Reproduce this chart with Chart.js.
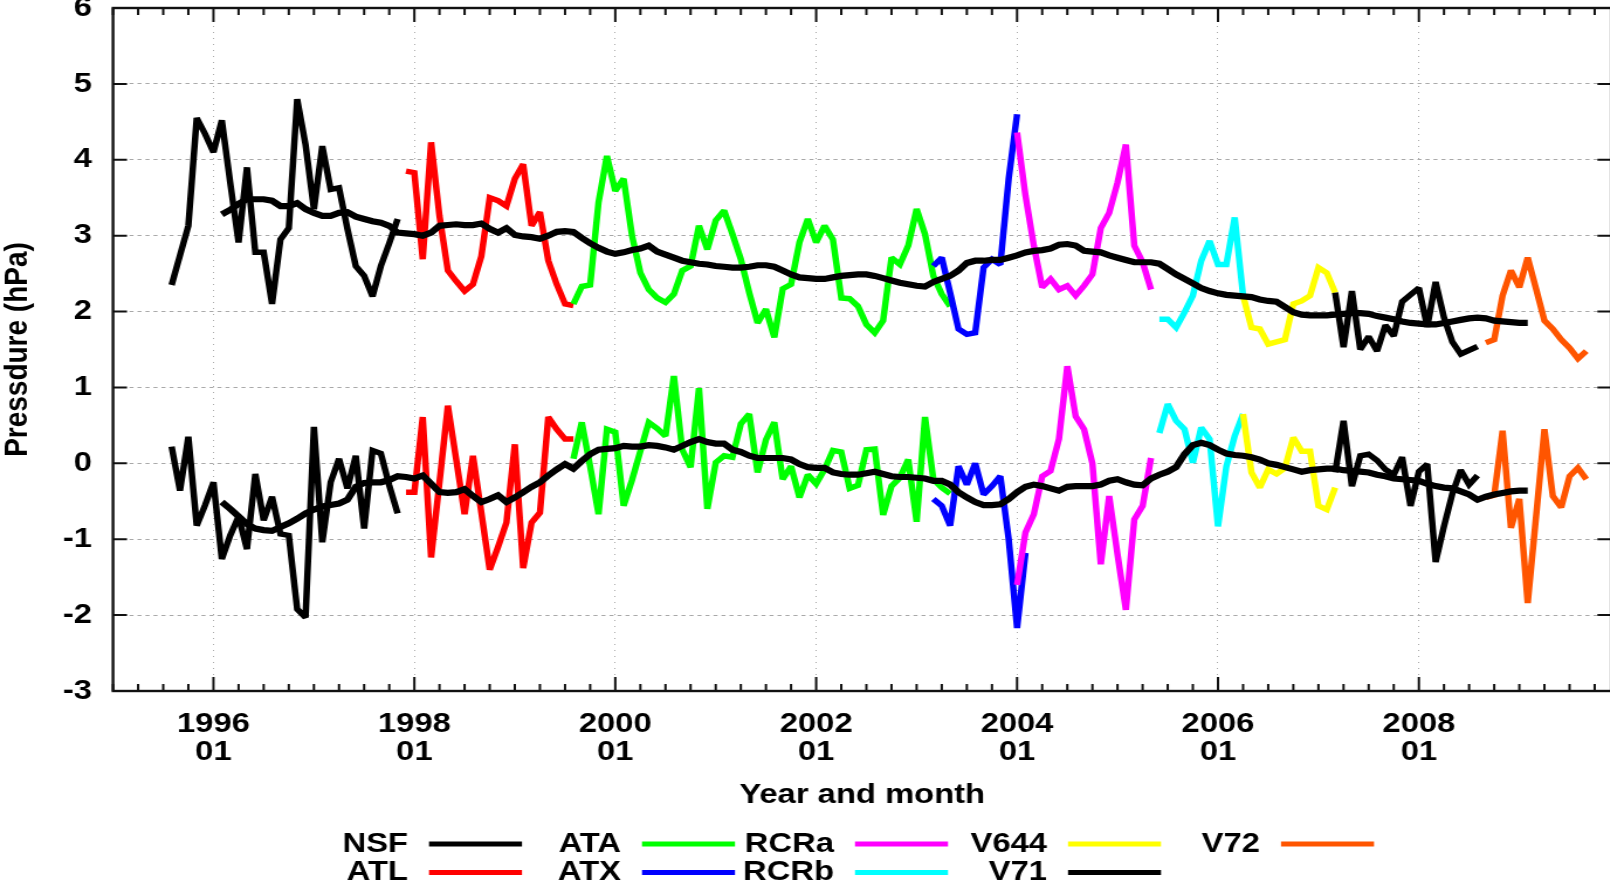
<!DOCTYPE html>
<html>
<head>
<meta charset="utf-8">
<script src="https://cdn.jsdelivr.net/npm/chart.js@4.4.1/dist/chart.umd.min.js"></script>
<style>
html,body{margin:0;padding:0;background:#ffffff;overflow:hidden;}
#wrap{position:absolute;left:0;top:0;width:1610px;height:883px;overflow:hidden;background:#fff;}
#stretch{position:absolute;left:0;top:0;transform-origin:0 0;}
canvas{display:block;}
</style>
</head>
<body>
<div id="wrap"><div id="stretch"><canvas id="c"></canvas></div></div>
<script>
// ---------------- data ----------------
const instruments = ['NSF','ATL','ATA','ATX','RCRa','RCRb','V644','V71','V72'];
const colors      = ['#000000','#ff0000','#00ff00','#0000ff','#ff00ff','#00ffff','#ffff00','#000000','#ff5500'];
const startMonths = ['1995-08','1997-12','1999-08','2003-03','2004-01','2005-06','2006-04','2007-03','2008-09'];

const nsfUpper  = [2.35,2.74,3.13,4.55,4.34,4.10,4.52,3.70,2.91,3.90,2.78,2.78,2.10,2.95,3.10,4.80,4.20,3.35,4.18,3.61,3.63,3.09,2.60,2.47,2.20,2.60,2.90,3.22];
const nsfLower  = [0.22,-0.36,0.35,-0.82,-0.55,-0.25,-1.26,-0.95,-0.70,-1.13,-0.14,-0.75,-0.44,-0.93,-0.95,-1.92,-2.03,0.48,-1.04,-0.25,0.06,-0.33,0.10,-0.86,0.17,0.13,-0.29,-0.66];
const atlUpper  = [3.85,3.83,2.69,4.23,3.26,2.54,2.40,2.27,2.36,2.73,3.50,3.46,3.39,3.75,3.94,3.13,3.31,2.67,2.36,2.10,2.08];
const atlLower  = [-0.38,-0.38,0.61,-1.24,-0.25,0.76,0.05,-0.67,0.10,-0.65,-1.40,-1.10,-0.78,0.25,-1.38,-0.78,-0.65,0.61,0.45,0.32,0.32];
const ataUpper  = [2.10,2.33,2.35,3.44,4.05,3.59,3.75,3.00,2.51,2.29,2.18,2.12,2.23,2.54,2.60,3.13,2.82,3.20,3.33,3.02,2.69,2.25,1.85,2.03,1.66,2.30,2.36,2.91,3.22,2.91,3.13,2.95,2.18,2.17,2.07,1.83,1.72,1.88,2.71,2.62,2.87,3.35,3.02,2.47,2.23,2.07];
const ataLower  = [0.06,0.54,-0.04,-0.67,0.45,0.41,-0.56,-0.22,0.16,0.54,0.46,0.36,1.15,0.18,-0.05,0.99,-0.60,0.01,0.10,0.08,0.52,0.65,-0.12,0.31,0.54,-0.21,-0.04,-0.45,-0.15,-0.27,-0.08,0.17,0.15,-0.33,-0.29,0.18,0.19,-0.68,-0.30,-0.19,0.05,-0.77,0.61,-0.21,-0.32,-0.40];
const atxUpper  = [2.60,2.71,2.25,1.77,1.70,1.72,2.58,2.69,2.62,3.75,4.60];
const atxLower  = [-0.47,-0.56,-0.82,-0.04,-0.28,0.00,-0.41,-0.30,-0.17,-1.00,-2.17,-1.18];
const rcraUpper = [4.36,3.53,2.87,2.32,2.43,2.29,2.34,2.21,2.34,2.49,3.10,3.30,3.70,4.20,2.87,2.65,2.29];
const rcraLower = [-1.60,-0.91,-0.67,-0.17,-0.10,0.32,1.28,0.62,0.45,0.00,-1.33,-0.43,-1.20,-1.93,-0.74,-0.56,0.07];
const rcrbUpper = [1.90,1.90,1.79,1.99,2.21,2.67,2.93,2.62,2.62,3.24,2.21];
const rcrbLower = [0.40,0.78,0.56,0.45,0.01,0.47,0.32,-0.83,-0.04,0.36,0.65];
const v644Upper = [2.21,1.79,1.77,1.57,1.60,1.63,2.10,2.14,2.21,2.58,2.51,2.25];
const v644Lower = [0.65,-0.12,-0.32,-0.08,-0.14,-0.06,0.34,0.16,0.16,-0.56,-0.61,-0.32];
const v71Upper  = [2.25,1.53,2.27,1.50,1.67,1.48,1.82,1.68,2.13,2.22,2.31,1.80,2.39,1.92,1.60,1.44,1.49,1.54];
const v71Lower  = [-0.12,0.56,-0.30,0.10,0.12,0.04,-0.08,-0.15,0.08,-0.56,-0.11,-0.01,-1.30,-0.83,-0.40,-0.09,-0.28,-0.16];
const v72Upper  = [1.59,1.63,2.21,2.54,2.32,2.71,2.30,1.88,1.77,1.63,1.52,1.38,1.48];
const v72Lower  = [-0.45,-0.42,0.43,-0.85,-0.47,-1.84,-0.70,0.45,-0.43,-0.58,-0.17,-0.06,-0.21];

const smoothStart = '1996-02';
const smoothUpper = [
 3.28,3.34,3.42,3.48,3.48,3.48,3.46,3.39,3.39,3.43,3.35,3.30,
 3.26,3.26,3.30,3.31,3.25,3.22,3.19,3.17,3.13,3.04,3.03,3.02,
 3.00,3.04,3.13,3.14,3.15,3.14,3.14,3.16,3.09,3.04,3.10,3.01,
 2.99,2.98,2.96,3.00,3.05,3.06,3.05,2.97,2.90,2.84,2.79,2.76,
 2.78,2.81,2.83,2.87,2.79,2.75,2.71,2.67,2.65,2.63,2.62,2.60,
 2.59,2.58,2.58,2.59,2.61,2.61,2.59,2.54,2.49,2.45,2.44,2.43,
 2.43,2.45,2.47,2.48,2.49,2.49,2.47,2.44,2.41,2.38,2.36,2.34,
 2.33,2.39,2.43,2.47,2.54,2.64,2.67,2.67,2.68,2.68,2.71,2.74,
 2.78,2.80,2.81,2.83,2.88,2.89,2.87,2.80,2.79,2.78,2.74,2.71,
 2.68,2.65,2.65,2.65,2.63,2.56,2.49,2.43,2.37,2.31,2.27,2.24,
 2.22,2.21,2.20,2.19,2.16,2.14,2.13,2.06,1.99,1.96,1.95,1.95,
 1.95,1.96,1.97,1.98,1.98,1.97,1.94,1.92,1.90,1.87,1.85,1.84,
 1.83,1.83,1.85,1.87,1.89,1.91,1.92,1.91,1.88,1.87,1.86,1.85,
 1.85];
const smoothLower = [
 -0.51,-0.60,-0.70,-0.80,-0.86,-0.88,-0.89,-0.84,-0.79,-0.73,-0.66,-0.61,
 -0.57,-0.55,-0.53,-0.48,-0.31,-0.26,-0.25,-0.25,-0.22,-0.17,-0.18,-0.20,
 -0.16,-0.27,-0.38,-0.39,-0.38,-0.34,-0.43,-0.51,-0.47,-0.42,-0.51,-0.45,
 -0.38,-0.31,-0.25,-0.16,-0.08,-0.01,-0.07,0.03,0.12,0.18,0.19,0.20,
 0.23,0.22,0.22,0.24,0.23,0.21,0.18,0.23,0.28,0.32,0.28,0.26,
 0.26,0.18,0.15,0.10,0.07,0.07,0.07,0.07,0.05,-0.01,-0.05,-0.06,
 -0.06,-0.12,-0.14,-0.15,-0.15,-0.13,-0.11,-0.14,-0.17,-0.18,-0.18,-0.19,
 -0.20,-0.23,-0.23,-0.28,-0.38,-0.45,-0.51,-0.55,-0.55,-0.54,-0.47,-0.38,
 -0.31,-0.28,-0.30,-0.33,-0.36,-0.31,-0.30,-0.30,-0.30,-0.28,-0.23,-0.21,
 -0.25,-0.28,-0.29,-0.20,-0.15,-0.11,-0.05,0.12,0.24,0.27,0.24,0.18,
 0.13,0.11,0.10,0.08,0.05,0.00,-0.02,-0.05,-0.08,-0.11,-0.09,-0.08,
 -0.07,-0.07,-0.09,-0.10,-0.11,-0.12,-0.15,-0.17,-0.20,-0.21,-0.22,-0.23,
 -0.27,-0.30,-0.32,-0.33,-0.37,-0.41,-0.48,-0.44,-0.41,-0.39,-0.37,-0.36,
 -0.36];

const upperSeries = [nsfUpper, atlUpper, ataUpper, atxUpper, rcraUpper, rcrbUpper, v644Upper, v71Upper, v72Upper];
const lowerSeries = [nsfLower, atlLower, ataLower, atxLower, rcraLower, rcrbLower, v644Lower, v71Lower, v72Lower];

const xRange = ['1995-01','2009-12'];
const yRange = [-3, 6];
const yearTicks = ['1996','1998','2000','2002','2004','2006','2008'];
const yTitle = 'Pressdure (hPa)';
const xTitle = 'Year and month';

// ---------------- layout (screen px) ----------------
const S = 1.17;                 // horizontal stretch of the whole drawing
const CW = 1380, CH = 883;      // canvas size before stretch
const AREA = {left:113, right:1611.4, top:8, bottom:691};
const canvas = document.getElementById('c');
canvas.width = CW; canvas.height = CH;
canvas.style.width = CW+'px'; canvas.style.height = CH+'px';
document.getElementById('stretch').style.transform = 'scaleX('+S+')';

function monthIndex(s){ const p = s.split('-').map(Number); return (p[0]-1995)*12 + (p[1]-1); }
function toPoints(start, vals){ const m0 = monthIndex(start); return vals.map((v,i)=>({x:m0+i, y:v})); }

const FONT = '"Liberation Sans", Arial, Helvetica, sans-serif';
const FS = 28;

const datasets = [];
datasets.push({label:'smoothUpper', data:toPoints(smoothStart, smoothUpper), borderColor:'#000', borderWidth:6.2, order:0});
datasets.push({label:'smoothLower', data:toPoints(smoothStart, smoothLower), borderColor:'#000', borderWidth:6.2, order:0});
instruments.forEach((name,i)=>{
  datasets.push({label:name+' upper', data:toPoints(startMonths[i], upperSeries[i]), borderColor:colors[i], borderWidth:5.5, order:50-i});
  datasets.push({label:name+' lower', data:toPoints(startMonths[i], lowerSeries[i]), borderColor:colors[i], borderWidth:5.5, order:50-i});
});
datasets.forEach(d=>{ d.pointRadius=0; d.tension=0; d.fill=false; d.borderJoinStyle='miter'; d.borderCapStyle='butt'; });

const framePlugin = {
  id:'frame',
  beforeDatasetsDraw(chart){ chart.ctx.miterLimit = 2; },
  afterDatasetsDraw(chart){
    const {ctx, chartArea:a, scales:{x,y}} = chart;
    ctx.save();
    ctx.strokeStyle = '#111'; ctx.lineWidth = 2;
    ctx.beginPath();
    const tl = 14/S;
    for (let v = y.min; v <= y.max; v++){
      const py = y.getPixelForValue(v);
      ctx.moveTo(a.left, py); ctx.lineTo(a.left+tl, py);
      ctx.moveTo(a.right, py); ctx.lineTo(a.right-tl, py);
    }
    const majors = yearTicks.map(t=>monthIndex(t+'-01'));
    for (let m = x.min; m <= x.max; m += 3){
      const px = x.getPixelForValue(m);
      const len = majors.includes(m) ? 14 : 7;
      ctx.moveTo(px, a.bottom); ctx.lineTo(px, a.bottom-len);
      ctx.moveTo(px, a.top); ctx.lineTo(px, a.top+len);
    }
    ctx.stroke();
    ctx.lineWidth = 2.4;
    ctx.strokeRect(a.left, a.top, a.right-a.left, a.bottom-a.top);
    ctx.restore();
  },
  afterDraw(chart){
    const ctx = chart.ctx;
    ctx.save();
    ctx.font = 'bold '+FS+'px ' + FONT;
    ctx.textAlign = 'right'; ctx.textBaseline = 'middle'; ctx.fillStyle = '#000';
    instruments.forEach((name,i)=>{
      const col = Math.floor(i/2), row = i%2;
      const tx = 408 + col*213, ty = 844 + row*28.6;
      ctx.fillText(name, tx/S, ty);
      ctx.strokeStyle = colors[i]; ctx.lineWidth = 5;
      ctx.beginPath(); ctx.moveTo((tx+21)/S, ty); ctx.lineTo((tx+114)/S, ty); ctx.stroke();
    });
    ctx.restore();
  }
};

new Chart(canvas, {
  type:'line',
  data:{datasets},
  options:{
    responsive:false, animation:false, devicePixelRatio:1,
    layout:{padding:{left:0, top:AREA.top, right:CW - AREA.right/S, bottom:CH - AREA.bottom - 120.8}},
    plugins:{legend:{display:false}, tooltip:{enabled:false}},
    scales:{
      x:{
        type:'linear', min:monthIndex(xRange[0]), max:monthIndex(xRange[1]),
        afterBuildTicks(s){ s.ticks = yearTicks.map(t=>({value:monthIndex(t+'-01')})); },
        afterFit(s){ s.height = 120.8; s.paddingLeft = 0; s.paddingRight = 0; },
        ticks:{
          autoSkip:false, maxRotation:0, padding:19, color:'#000',
          font:{family:FONT, size:FS, weight:'bold', lineHeight:1.018},
          callback(v){ return [String(1995+Math.floor(v/12)), String(v%12+1).padStart(2,'0')]; }
        },
        grid:{color:'#a8a8a8', lineWidth:1, drawTicks:false},
        border:{display:false, dash:[1,5]},
        title:{display:true, text:xTitle, color:'#000', font:{family:FONT, size:FS, weight:'bold'}, padding:{top:0,bottom:0}}
      },
      y:{
        type:'linear', min:yRange[0], max:yRange[1],
        afterFit(s){ s.width = AREA.left/S; s.paddingTop = 0; s.paddingBottom = 0; },
        ticks:{stepSize:1, padding:21/S, color:'#000', font:{family:FONT, size:FS, weight:'bold'}},
        grid:{color:'#a8a8a8', lineWidth:1, drawTicks:false},
        border:{display:false, dash:[4/S,4/S]},
        title:{display:true, text:yTitle, color:'#000', font:{family:FONT, size:FS, weight:'bold', lineHeight:1.0}, padding:{top:1.4,bottom:0}}
      }
    }
  },
  plugins:[framePlugin]
});
</script>
</body>
</html>
